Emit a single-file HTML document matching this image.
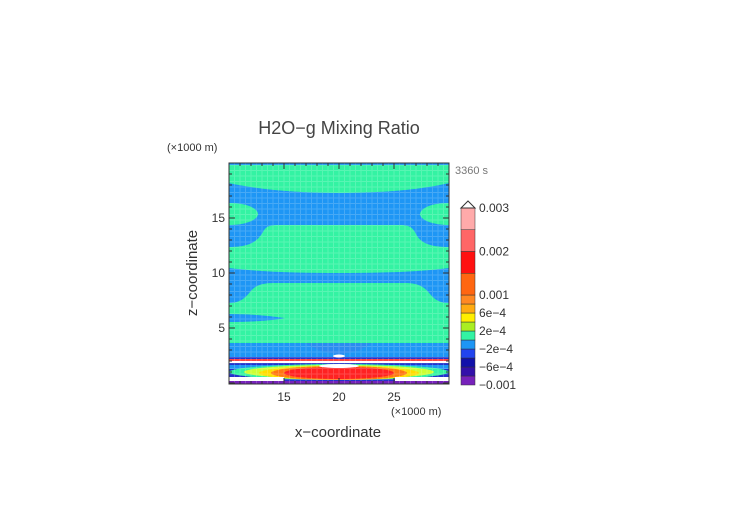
<!DOCTYPE html>
<html><head><meta charset="utf-8"><style>
body{margin:0;background:#fff;}
svg{display:block;font-family:"Liberation Sans",sans-serif;}
</style></head><body>
<svg id="chart" width="752" height="532" viewBox="0 0 752 532">
<defs><clipPath id="pc"><rect x="229" y="163" width="220" height="221"/></clipPath></defs>
<text x="339" y="134" font-size="18" text-anchor="middle" fill="#444">H2O−g Mixing Ratio</text>
<text x="167" y="151" font-size="11" fill="#333">(×1000 m)</text>
<text x="455" y="174" font-size="11" fill="#777">3360 s</text>
<g clip-path="url(#pc)">
 <rect x="229" y="163" width="220" height="221" fill="#1e96f5"/>
 <path d="M229,165 H449 V183 C420,190 380,193 339,193 C300,193 260,190 229,183 Z" fill="#33f3a3"/>
 <path d="M229,203 C250,203 258,210 258,214 C258,220 245,225 229,225 Z" fill="#33f3a3"/>
 <path d="M449,203 C428,203 420,210 420,214 C420,220 433,225 449,225 Z" fill="#33f3a3"/>
 <path d="M229,268 V247 C252,247 258,240 263,232 C266,226 270,225 280,225 H400 C410,225 413,228 416,234 C420,242 428,247 449,247 V268 C420,272 380,273 339,273 C300,273 260,272 229,268 Z" fill="#33f3a3"/>
 <path d="M229,343 V303 C240,303 245,298 250,292 C255,286 260,283 275,283 H405 C420,283 425,288 430,294 C435,300 440,303 449,303 V343 Z" fill="#33f3a3"/>
 <path d="M229,314 C250,314 270,316 285,318 C270,321 250,322 229,322 Z" fill="#1e96f5"/>
 <path d="M305,343 L372,343 L360,350 L339,355 L318,350 Z" fill="#2a8cf0"/>
 <rect x="229" y="357" width="220" height="27" fill="#2233cc"/>
 <rect x="229" y="359" width="220" height="2" fill="#ff4444"/>
 <rect x="229" y="361" width="220" height="2" fill="#ffffff"/>
 <rect x="229" y="363" width="220" height="2" fill="#2233cc"/>
 <rect x="229" y="365" width="220" height="4" fill="#1e96f5"/>
 <ellipse cx="339" cy="372" rx="110" ry="8" fill="#33f3a3"/>
 <ellipse cx="339" cy="372" rx="95" ry="7" fill="#ccff33"/>
 <ellipse cx="339" cy="373" rx="80" ry="7" fill="#ffdd00"/>
 <ellipse cx="339" cy="373" rx="68" ry="7" fill="#ff7711"/>
 <ellipse cx="339" cy="373" rx="55" ry="6" fill="#ff2222"/>
 <ellipse cx="339" cy="366" rx="20" ry="2" fill="#ffffff"/>
 <ellipse cx="339" cy="356" rx="6" ry="1.5" fill="#ffffff"/>
 <rect x="229" y="377" width="55" height="4" fill="#ffffff"/>
 <rect x="395" y="377" width="54" height="4" fill="#ffffff"/>
 <rect x="229" y="381" width="220" height="3" fill="#7722bb"/>
 <g id="grid" opacity="0.18" stroke="#fff" stroke-width="1"></g>
</g>
<rect x="229" y="163" width="220" height="221" fill="none" stroke="#333" stroke-width="1"/>
<g id="ticks" stroke="#333" stroke-width="1"></g>
<g id="xlabels" font-size="12" fill="#333" text-anchor="middle"></g>
<g id="ylabels" font-size="12" fill="#333" text-anchor="end"></g>
<text x="391" y="415" font-size="11" fill="#333">(×1000 m)</text>
<text x="338" y="437" font-size="15" fill="#333" text-anchor="middle">x−coordinate</text>
<text transform="translate(197,273) rotate(-90)" font-size="15" fill="#333" text-anchor="middle">z−coordinate</text>
<g id="colorbar"></g>
</svg>
<script>
const xTicks=[15,20,25];
const zTicks=[5,10,15];
const cbLevels=[-0.001,-0.0008,-0.0006,-0.0004,-0.0002,0,0.0002,0.0004,0.0006,0.0008,0.001,0.0015,0.002,0.0025,0.003];
const cbColors=["#7722bb","#3311aa","#1111aa","#2244ee","#1e96f5","#33f3a3","#aaee22","#ffee00","#ffaa11","#ff8822","#ff6611","#ff1111","#ff6666","#ffaaaa"];
const cbLabels=["−0.001","−6e−4","−2e−4","2e−4","6e−4","0.001","0.002","0.003"];
const cbLabelVals=[-0.001,-0.0006,-0.0002,0.0002,0.0006,0.001,0.002,0.003];
const NS="http://www.w3.org/2000/svg";
const sx=x=>229+(x-10)*11;
const sz=z=>383-z*11;
const cv=v=>v<=0.001?385-(v+0.001)/0.0002*9:295-(v-0.001)/0.0005*21.75;
function mk(tag,attrs,parent){const e=document.createElementNS(NS,tag);for(const k in attrs)e.setAttribute(k,attrs[k]);parent.appendChild(e);return e;}
const grid=document.getElementById('grid');
for(let x=229;x<449;x+=5.5){mk('line',{x1:x,y1:163,x2:x,y2:384},grid);}
for(let y=165;y<384;y+=5.5){mk('line',{x1:229,y1:y,x2:449,y2:y},grid);}
const tk=document.getElementById('ticks');
for(let x=10;x<=30;x++){const L=x%5===0?6:3;
 const a=mk('line',{x1:sx(x),y1:384,x2:sx(x),y2:384-L},tk);
 
 
 mk('line',{x1:sx(x),y1:163,x2:sx(x),y2:163+L},tk);}
for(let z=0;z<=20;z++){const L=z%5===0?6:3;
 const a=mk('line',{x1:229,y1:sz(z),x2:229+L,y2:sz(z)},tk);
 
 
 mk('line',{x1:449,y1:sz(z),x2:449-L,y2:sz(z)},tk);}
const xl=document.getElementById('xlabels');
xTicks.forEach(v=>{const t=mk('text',{x:sx(v),y:401},xl);t.textContent=v;
 
 });
const yl=document.getElementById('ylabels');
zTicks.forEach(v=>{const t=mk('text',{x:225,y:sz(v)+4},yl);t.textContent=v;
 
 });
const cb=document.getElementById('colorbar');


cbColors.forEach((c,i)=>{const y1=cv(cbLevels[i+1]),y0=cv(cbLevels[i]);
 const r=mk('rect',{x:461,y:y1,width:14,height:y0-y1,fill:c,stroke:'#333','stroke-width':0.5},cb);
 
 });
const cbTopY=cv(cbLevels[cbLevels.length-1]);
const tri=mk('path',{d:`M461,${cbTopY} L468,${cbTopY-7} L475,${cbTopY} Z`,fill:'#fff',stroke:'#333'},cb);


cbLabels.forEach((s,i)=>{const t=mk('text',{x:479,y:cv(cbLabelVals[i])+4,'font-size':12,fill:'#333'},cb);t.textContent=s;
 
 });
</script>
</body></html>
